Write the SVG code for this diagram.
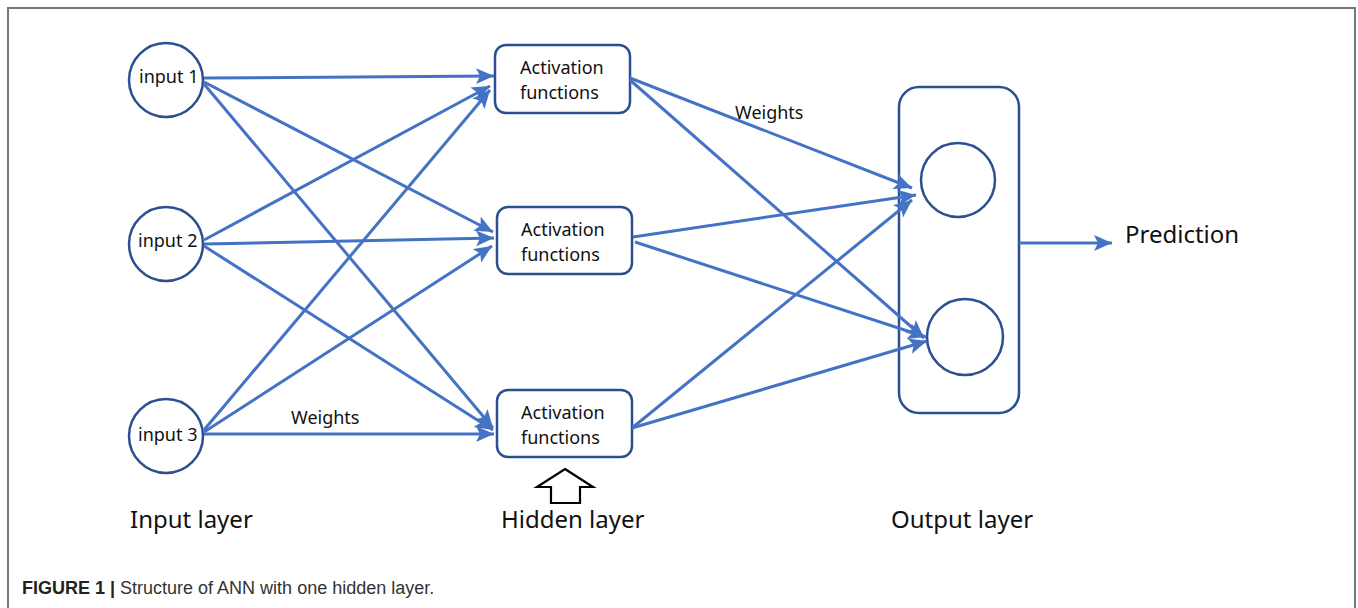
<svg xmlns="http://www.w3.org/2000/svg" width="1358" height="608" viewBox="0 0 1358 608">
  <style>
    .node { fill: #fff; stroke: #2c4f90; stroke-width: 2.5; }
    .edge { fill: none; stroke: #4472c4; stroke-width: 3; marker-end: url(#arrow); }
    .lbl { font-family: "Noto Sans", "Open Sans", sans-serif; font-size: 18px; fill: #111; }
    .big { font-family: "Noto Sans", "Open Sans", sans-serif; font-size: 24px; fill: #111; }
    .cap { font-family: "Liberation Sans Narrow", "Liberation Sans", Arial, sans-serif; font-size: 18px; fill: #333; }
  </style>
  <defs>
    <marker id="arrow" markerUnits="userSpaceOnUse" markerWidth="20" markerHeight="18" refX="18" refY="8" orient="auto">
      <path d="M0,0 L18,8 L0,16 L4,8 Z" fill="#4472c4"/>
    </marker>
  </defs>

  <rect width="1358" height="608" fill="#fff"/>
  <!-- figure frame -->
  <path d="M8,608 V8 H1355 V608" fill="none" stroke="#777" stroke-width="2"/>

  <!-- input layer -->
  <g id="input1">
    <circle class="node" cx="166" cy="80" r="37"/>
    <text class="lbl" x="139" y="83">input 1</text>
  </g>
  <g id="input2">
    <circle class="node" cx="166" cy="244" r="37"/>
    <text class="lbl" x="138" y="247">input 2</text>
  </g>
  <g id="input3">
    <circle class="node" cx="166" cy="436" r="37"/>
    <text class="lbl" x="138" y="441">input 3</text>
  </g>

  <!-- hidden layer -->
  <g id="hidden1">
    <rect class="node" x="495" y="45" width="135" height="68" rx="11"/>
    <text class="lbl" x="520" y="74">Activation</text>
    <text class="lbl" x="520" y="99">functions</text>
  </g>
  <g id="hidden2">
    <rect class="node" x="497" y="207" width="135" height="67" rx="11"/>
    <text class="lbl" x="521" y="236">Activation</text>
    <text class="lbl" x="521" y="261">functions</text>
  </g>
  <g id="hidden3">
    <rect class="node" x="497" y="390" width="135" height="67" rx="11"/>
    <text class="lbl" x="521" y="419">Activation</text>
    <text class="lbl" x="521" y="444">functions</text>
  </g>

  <!-- output layer -->
  <g id="output">
    <rect class="node" x="899" y="87" width="120" height="326" rx="20"/>
    <circle class="node" cx="958" cy="180" r="37"/>
    <circle class="node" cx="965" cy="337" r="38"/>
  </g>

  <!-- connectors (drawn over the output container) -->
  <g id="connectors">
    <line class="edge" x1="204" y1="78" x2="494" y2="76"/>
    <line class="edge" x1="204" y1="82" x2="493" y2="232"/>
    <line class="edge" x1="204" y1="84" x2="493" y2="428"/>
    <line class="edge" x1="204" y1="240" x2="490" y2="86"/>
    <line class="edge" x1="204" y1="244" x2="494" y2="238"/>
    <line class="edge" x1="204" y1="246" x2="493" y2="430"/>
    <line class="edge" x1="204" y1="430" x2="490" y2="90"/>
    <line class="edge" x1="204" y1="432" x2="492" y2="246"/>
    <line class="edge" x1="204" y1="434" x2="494" y2="434"/>

    <line class="edge" x1="630" y1="78" x2="912" y2="188"/>
    <line class="edge" x1="630" y1="80" x2="924" y2="338"/>
    <line class="edge" x1="633" y1="237" x2="916" y2="195"/>
    <line class="edge" x1="635" y1="242" x2="926" y2="337"/>
    <line class="edge" x1="632" y1="428" x2="912" y2="200"/>
    <line class="edge" x1="632" y1="428" x2="927" y2="341"/>

    <line class="edge" x1="1019" y1="243" x2="1112" y2="243"/>
  </g>

  <!-- edge labels -->
  <text class="lbl" x="735" y="119">Weights</text>
  <text class="lbl" x="291" y="424">Weights</text>

  <g id="prediction">
    <text class="big" x="1125" y="243">Prediction</text>
  </g>

  <!-- hollow pointer under the hidden layer -->
  <path d="M565,469 L593,487 L580,487 L580,503 L551,503 L551,487 L537,487 Z" fill="#fff" stroke="#000" stroke-width="2.2" stroke-linejoin="miter"/>

  <!-- layer titles -->
  <text class="big" x="130" y="528">Input layer</text>
  <text class="big" x="501" y="528">Hidden layer</text>
  <text class="big" x="891" y="528">Output layer</text>

  <!-- caption -->
  <text class="cap" x="22" y="594"><tspan font-weight="bold" fill="#222">FIGURE 1 |</tspan> Structure of ANN with one hidden layer.</text>
</svg>
